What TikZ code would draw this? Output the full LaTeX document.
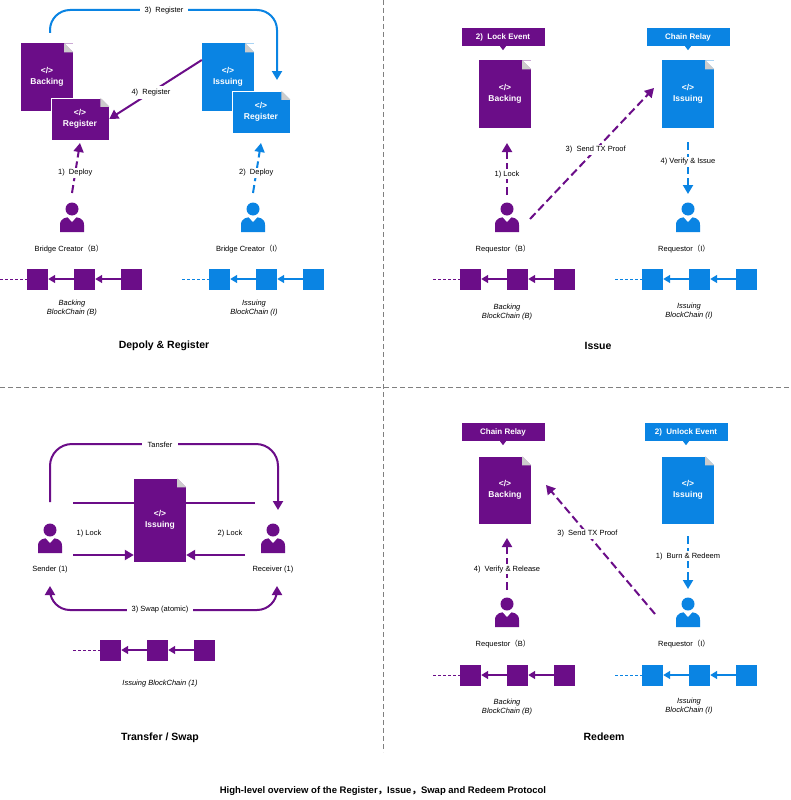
\documentclass[tikz,border=0pt]{standalone}
\usepackage{fontspec}
\setmainfont{Liberation Sans}
\newfontfamily\cjk{Noto Sans CJK SC}
\usetikzlibrary{arrows.meta,calc}
\definecolor{pur}{HTML}{6B0D88}
\definecolor{blu}{HTML}{0A84E3}
\tikzset{
  doc/.style={fill=#1, minimum width=52pt, minimum height=67pt, inner sep=0pt, text=white, font=\fontsize{8.5}{11}\selectfont\bfseries, align=center},
  callout/.style={fill=#1, minimum width=83pt, minimum height=18pt, inner sep=0pt, text=white, font=\fontsize{8}{10}\selectfont\bfseries},
  lbl/.style={font=\fontsize{7.5}{9}\selectfont, fill=white, inner sep=1.5pt},
  txt/.style={font=\fontsize{7.5}{9}\selectfont, inner sep=0pt},
  itx/.style={font=\fontsize{7.5}{9.5}\selectfont\itshape, align=center, inner sep=0pt},
  captn/.style={font=\fontsize{10.5}{12}\selectfont\bfseries, inner sep=0pt},
  arr/.style={draw=#1, line width=2pt, -{Triangle[width=10pt,length=9pt]}},
  darr/.style={arr=#1, dash pattern=on 8pt off 4pt},
  blk/.style={fill=#1, minimum size=21pt, inner sep=0pt},
}
\newcommand\corner[1]{%
  \fill[white] ($(#1.north east)+(-9,0)$) -- (#1.north east) -- ($(#1.north east)+(0,9)$) -- cycle;
  \fill[gray!40] ($(#1.north east)+(-9,0)$) -- ($(#1.north east)+(-9,9)$) -- ($(#1.north east)+(0,9)$) -- cycle;}
\newcommand\mydoc[4]{\node[doc=#2] (#1) at (#3) {</>\\#4}; \corner{#1}}
\newcommand\person[3]{%
  \coordinate (#1) at (#3);
  \begin{scope}[shift={(#3)}]
   \fill[#2] (0,-8) circle (6.5pt);
   \fill[#2] (-12,15) -- (-12,8) .. controls (-12,1) and (-6,0) .. (0,0) .. controls (6,0) and (12,1) .. (12,8) -- (12,15) -- cycle;
   \fill[white] (-4.5,0) -- (0,5) -- (4.5,0) -- cycle;
  \end{scope}}
\newcommand\chain[4]{%
  \node[blk=#2] (#1a) at (#3+37.5,#4) {};
  \node[blk=#2] (#1b) at (#3+84.5,#4) {};
  \node[blk=#2] (#1c) at (#3+131.5,#4) {};
  \draw[#2, line width=1pt, dash pattern=on 3pt off 2pt] (#3,#4) -- (#1a.west);
  \draw[#2, line width=1.5pt, -{Triangle[width=8pt,length=7pt]}] (#1b.west) -- (#1a.east);
  \draw[#2, line width=1.5pt, -{Triangle[width=8pt,length=7pt]}] (#1c.west) -- (#1b.east);}
\newcommand\callout[4]{\node[callout=#2] (#1) at (#3) {#4};
  \fill[#2] ($(#1.south)+(-3,0)$) -- ($(#1.south)+(3,0)$) -- ($(#1.south)+(0,4)$) -- cycle;}
\newcommand\fp[1]{{\cjk （}#1{\cjk ）}}
\begin{document}
\begin{tikzpicture}[x=1pt,y=-1pt]
\useasboundingbox[fill=white] (0,0) rectangle (790,800);
% dividers
\draw[gray, line width=0.8pt, dash pattern=on 5pt off 3pt] (383,0) -- (383,752);
\draw[gray, line width=0.8pt, dash pattern=on 5pt off 3pt] (0,387) -- (790,387);

% ===== Top-left
\mydoc{tlback}{pur}{47,77}{Backing}
\mydoc{tliss}{blu}{228,77}{Issuing}
\node[doc=pur, minimum width=58pt, minimum height=42pt, draw=white, line width=0.5pt] (tlreg) at (80,119) {</>\\Register}; \corner{tlreg}
\node[doc=blu, minimum width=58pt, minimum height=42pt, draw=white, line width=0.5pt] (tlregb) at (261,112) {</>\\Register}; \corner{tlregb}
\coordinate (r3a) at (50,33);
\coordinate (r3b) at (277,80);
\draw[arr=blu, rounded corners=20pt] (r3a) -- (50,10) -- (277,10) -- (r3b);
\node[lbl, inner sep=5pt] at (164,11) {3)\ \ Register};
\draw[arr=pur] (tliss.west|-0,60) -- node[lbl, pos=0.55, inner sep=3pt]{4)\ \ Register} (tlreg.east);
\person{tlp}{pur}{72,217}
\person{tlq}{blu}{253,217}
\draw[darr=pur] ($(tlp)+(0,-24)$) -- node[lbl, pos=0.4]{1)\ \ Deploy} (tlreg.south|-0,143);
\draw[darr=blu] ($(tlq)+(0,-24)$) -- node[lbl, pos=0.4]{2)\ \ Deploy} (tlregb.south|-0,143);
\node[txt] at (69,249) {Bridge Creator\fp{B}};
\node[txt] at (249,249) {Bridge Creator\fp{I}};
\chain{tlc}{pur}{0}{279}
\chain{tld}{blu}{182}{279}
\node[itx] at (72,308) {Backing\\BlockChain (B)};
\node[itx] at (254,308) {Issuing\\BlockChain (I)};
\node[captn] at (164,346) {Depoly \& Register};

% ===== Top-right
\callout{trle}{pur}{503,37}{2)\ \ Lock Event}
\callout{trcr}{blu}{688,37}{Chain Relay}
\mydoc{trback}{pur}{505,94}{Backing}
\mydoc{triss}{blu}{688,94}{Issuing}
\person{trp}{pur}{507,217}
\person{trq}{blu}{688,217}
\draw[darr=pur] ($(trp)+(0,-22)$) -- node[lbl, pos=0.4]{1) Lock} (507,143);
\draw[darr=pur] ($(trp)+(23,2)$) -- node[lbl, pos=0.53]{3)\ \ Send TX Proof} (654,88);
\draw[darr=blu] (688,142) -- node[lbl, pos=0.38]{4) Verify \& Issue} ($(trq)+(0,-23)$);
\node[txt] at (503,249) {Requestor\fp{B}};
\node[txt] at (684,249) {Requestor\fp{I}};
\chain{trc}{pur}{433}{279}
\chain{trd}{blu}{615}{279}
\node[itx] at (507,312) {Backing\\BlockChain (B)};
\node[itx] at (689,311) {Issuing\\BlockChain (I)};
\node[captn] at (598,346) {Issue};

% ===== Bottom-left
\person{snd}{pur}{50,538}
\person{rcv}{pur}{273,538}
\draw[pur, line width=2pt] (73,503) -- (255,503);
\node[doc=pur, minimum height=83pt] (bliss) at (160,520) {</>\\Issuing}; \corner{bliss}
\draw[arr=pur, rounded corners=22pt] ($(snd)+(0,-36)$) -- (50,444) -- (278,444) -- ($(rcv)+(5,-28)$);
\node[lbl, inner sep=6pt] at (160,445) {Tansfer};
\draw[arr=pur] (73,555) -- (bliss.west|-0,555);
\draw[arr=pur] (245,555) -- (bliss.east|-0,555);
\node[txt] at (89,534) {1) Lock};
\node[txt] at (230,534) {2) Lock};
\node[txt] at (50,570) {Sender (1)};
\node[txt] at (273,570) {Receiver (1)};
\draw[arr=pur, rounded corners=20pt] (160,610) -- (50,610) -- (50,586);
\draw[arr=pur, rounded corners=20pt] (160,610) -- (277,610) -- (277,586);
\node[lbl, inner sep=5pt] at (160,610) {3) Swap (atomic)};
\chain{blc}{pur}{73}{650}
\node[itx] at (160,684) {Issuing BlockChain (1)};
\node[captn] at (160,738) {Transfer / Swap};

% ===== Bottom-right
\callout{brcr}{pur}{503,432}{Chain Relay}
\callout{brue}{blu}{686,432}{2)\ \ Unlock Event}
\mydoc{brback}{pur}{505,490}{Backing}
\mydoc{briss}{blu}{688,490}{Issuing}
\person{brp}{pur}{507,612}
\person{brq}{blu}{688,612}
\draw[darr=pur] ($(brp)+(0,-22)$) -- node[lbl, pos=0.4]{4)\ \ Verify \& Release} (507,538);
\draw[darr=blu] (688,536) -- node[lbl, pos=0.38]{1)\ \ Burn \& Redeem} ($(brq)+(0,-23)$);
\draw[darr=pur] ($(brq)+(-33,2)$) -- node[lbl, pos=0.62]{3)\ \ Send TX Proof} (546,485);
\node[txt] at (503,644) {Requestor\fp{B}};
\node[txt] at (684,644) {Requestor\fp{I}};
\chain{brc}{pur}{433}{675}
\chain{brd}{blu}{615}{675}
\node[itx] at (507,707) {Backing\\BlockChain (B)};
\node[itx] at (689,706) {Issuing\\BlockChain (I)};
\node[captn] at (604,737) {Redeem};

\node[captn, font=\fontsize{9.5}{11}\selectfont\bfseries] at (383,791) {High-level overview of the Register{\cjk ，}Issue{\cjk ，}Swap and Redeem Protocol};
\end{tikzpicture}
\end{document}
